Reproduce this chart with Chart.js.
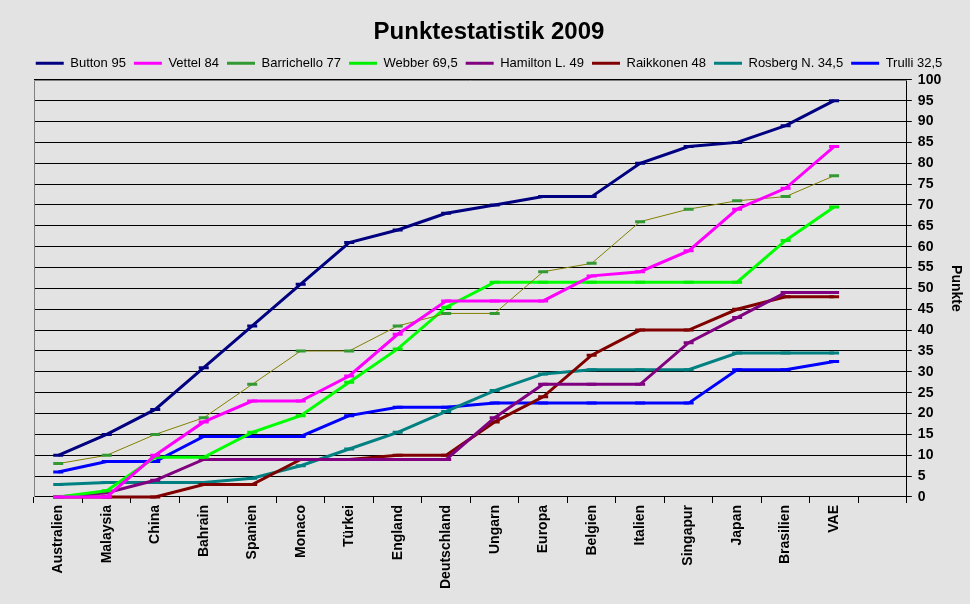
<!DOCTYPE html>
<html>
<head>
<meta charset="utf-8">
<script src="https://cdn.jsdelivr.net/npm/chart.js@4.4.1/dist/chart.umd.min.js"></script>
<style>
  html, body { margin: 0; padding: 0; background: #e3e3e3; }
  #wrap { width: 970px; height: 604px; }
</style>
</head>
<body>
<div id="wrap"><canvas id="pointsChart" width="970" height="604"></canvas></div>
<script>
// races of the 2009 season (last slot left empty like in the original)
const races = ["Australien", "Malaysia", "China", "Bahrain", "Spanien", "Monaco", "Türkei", "England",
  "Deutschland", "Ungarn", "Europa", "Belgien", "Italien", "Singapur", "Japan", "Brasilien", "VAE", ""];

const drivers = ["Button", "Vettel", "Barrichello", "Webber", "Hamilton L.", "Raikkonen", "Rosberg N.", "Trulli"];
const totals = ["95", "84", "77", "69,5", "49", "48", "34,5", "32,5"];

// cumulative points after each race
const button      = [10, 15, 21, 31, 41, 51, 61, 64, 68, 70, 72, 72, 80, 84, 85, 89, 95];
const vettel      = [0, 0, 10, 18, 23, 23, 29, 39, 47, 47, 47, 53, 54, 59, 69, 74, 84];
const barrichello = [8, 10, 15, 19, 27, 35, 35, 41, 44, 44, 54, 56, 66, 69, 71, 72, 77];
const webber      = [0, 1.5, 9.5, 9.5, 15.5, 19.5, 27.5, 35.5, 45.5, 51.5, 51.5, 51.5, 51.5, 51.5, 51.5, 61.5, 69.5];
const hamilton    = [0, 1, 4, 9, 9, 9, 9, 9, 9, 19, 27, 27, 27, 37, 43, 49, 49];
const raikkonen   = [0, 0, 0, 3, 3, 9, 9, 10, 10, 18, 24, 34, 40, 40, 45, 48, 48];
const rosberg     = [3, 3.5, 3.5, 3.5, 4.5, 7.5, 11.5, 15.5, 20.5, 25.5, 29.5, 30.5, 30.5, 30.5, 34.5, 34.5, 34.5];
const trulli      = [6, 8.5, 8.5, 14.5, 14.5, 14.5, 19.5, 21.5, 21.5, 22.5, 22.5, 22.5, 22.5, 22.5, 30.5, 30.5, 32.5];

const yTicks = [0, 5, 10, 15, 20, 25, 30, 35, 40, 45, 50, 55, 60, 65, 70, 75, 80, 85, 90, 95, 100];

const series = [button, vettel, barrichello, webber, hamilton, raikkonen, rosberg, trulli];
const lineColors = ["#000080", "#ff00ff", "#808000", "#00ff00", "#800080", "#800000", "#008080", "#0000ff"];
const markColors = ["#000080", "#ff00ff", "#339933", "#00ee00", "#800080", "#800000", "#008080", "#0000ff"];

const datasets = series.map((values, i) => ({
  label: drivers[i] + " " + totals[i],
  data: values,
  borderColor: lineColors[i],
  backgroundColor: lineColors[i],
  borderWidth: i === 2 ? 1 : 3,
  tension: 0,
  pointStyle: "line",
  pointRadius: 5,
  pointHoverRadius: 5,
  pointBorderWidth: 3,
  pointBorderColor: markColors[i]
}));

// grey frame on the left and top of the plot area
const plotFrame = {
  id: "plotFrame",
  beforeDatasetsDraw(chart) {
    const { ctx, chartArea: a } = chart;
    ctx.save();
    ctx.strokeStyle = "#808080";
    ctx.lineWidth = 1;
    ctx.beginPath();
    ctx.moveTo(Math.round(a.left) + 0.5, a.bottom);
    ctx.lineTo(Math.round(a.left) + 0.5, Math.round(a.top) + 0.5);
    ctx.lineTo(a.right, Math.round(a.top) + 0.5);
    ctx.stroke();
    ctx.restore();
  }
};

Chart.defaults.font.family = "'Liberation Sans', Arial, sans-serif";
Chart.defaults.color = "#000";

new Chart(document.getElementById("pointsChart"), {
  type: "line",
  data: { labels: races, datasets },
  plugins: [plotFrame],
  options: {
    responsive: false,
    animation: false,
    layout: { padding: { left: 12, right: 4, top: 0, bottom: 13 } },
    plugins: {
      title: {
        display: true,
        text: "Punktestatistik 2009",
        font: { size: 24, weight: "bold" },
        padding: { top: 18, bottom: 2 }
      },
      legend: {
        position: "top",
        labels: {
          usePointStyle: true,
          pointStyleWidth: 28,
          boxHeight: 3,
          padding: 8,
          font: { size: 13 }
        }
      },
      tooltip: { enabled: false }
    },
    scales: {
      x: {
        offset: true,
        grid: {
          offset: true,
          drawOnChartArea: false,
          drawTicks: true,
          tickLength: 6,
          color: "#000"
        },
        border: { color: "#000", width: 1 },
        ticks: {
          autoSkip: false,
          minRotation: 90,
          maxRotation: 90,
          padding: 2,
          font: { size: 14, weight: "bold" }
        }
      },
      // empty strip that keeps the plot off the left edge
      left: {
        position: "left",
        display: true,
        grid: { display: false },
        border: { display: false },
        ticks: { display: false },
        afterFit(axis) { axis.width = 22; }
      },
      y: {
        position: "right",
        min: 0,
        max: 100,
        afterBuildTicks(axis) {
          axis.ticks = yTicks.map(v => ({ value: v }));
        },
        grid: { color: "#000", lineWidth: 1, tickLength: 5 },
        border: { color: "#000", width: 1 },
        ticks: {
          autoSkip: false,
          padding: 6,
          font: { size: 14, weight: "bold" }
        },
        title: {
          display: true,
          text: "Punkte",
          font: { size: 14, weight: "bold" },
          padding: { top: 2, bottom: 0 }
        }
      }
    }
  }
});
</script>
</body>
</html>
